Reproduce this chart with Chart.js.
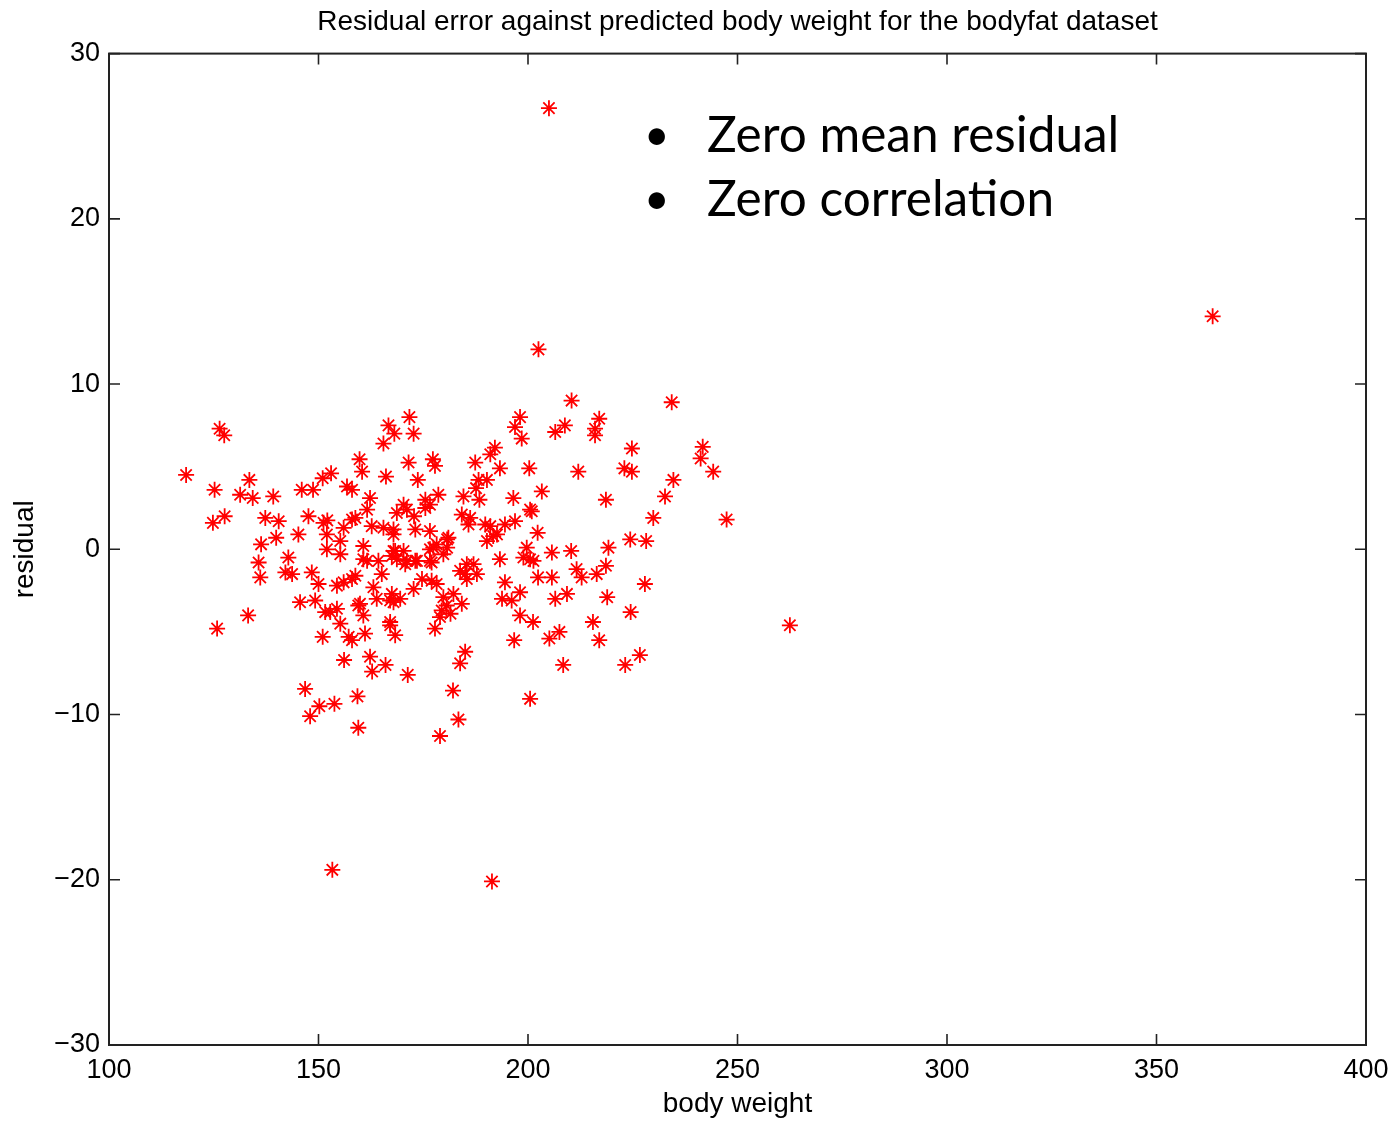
<!DOCTYPE html>
<html>
<head>
<meta charset="utf-8">
<script src="https://cdn.jsdelivr.net/npm/chart.js@4/dist/chart.umd.min.js"></script>
<style>
  html, body { margin: 0; padding: 0; background: #fff; }
  #wrap { position: relative; width: 1395px; height: 1123px; }
  #notes { position: absolute; left: 640px; top: 101px; font-family: Lato, "Open Sans", sans-serif; font-size: 49.5px; color: #000; line-height: 64px; }
  #notes .row { white-space: nowrap; }
  #notes .b { display: inline-block; width: 67px; text-align: left; padding-left: 4px; box-sizing: border-box; font-size: 44px; vertical-align: top; }
</style>
</head>
<body>
<div id="wrap">
  <canvas id="c" width="1395" height="1123"></canvas>
  <div id="notes">
    <div class="row"><span class="b">•</span>Zero mean residual</div>
    <div class="row"><span class="b">•</span>Zero correlation</div>
  </div>
</div>
<script>
const chartTitle = 'Residual error against predicted body weight for the bodyfat dataset';
const xLabel = 'body weight';
const yLabel = 'residual';
const xTicks = [100, 150, 200, 250, 300, 350, 400];
const yTicks = [-30, -20, -10, 0, 10, 20, 30];

const weights = [
  205.0, 363.4, 202.5, 262.5, 153.3, 191.4, 118.4, 247.4, 244.2, 241.7,
  241.2, 234.7, 234.3, 232.7, 229.9, 228.2, 227.9, 226.7, 224.8, 224.8,
  223.0, 224.4, 224.5, 223.2, 217.0, 216.0, 216.0, 218.6, 219.2, 218.9,
  216.4, 218.6, 215.5, 217.0, 212.0, 210.4, 210.3, 211.6, 212.8, 209.3,
  208.4, 208.8, 206.5, 205.7, 205.7, 206.5, 207.5, 205.1, 203.3, 202.4,
  201.3, 202.3, 200.3, 200.9, 199.7, 200.5, 200.5, 201.2, 198.1, 196.9,
  198.5, 196.5, 200.5, 196.9, 194.5, 191.0, 198.1, 196.1, 193.8, 194.5,
  193.3, 198.9, 198.1, 196.7, 187.4, 191.0, 192.1, 193.3, 188.2, 190.2,
  187.6, 184.6, 188.4, 184.2, 186.2, 185.8, 189.8, 191.7, 190.2, 192.6,
  185.0, 183.8, 185.4, 187.0, 187.8, 185.4, 184.2, 182.2, 180.6, 179.4,
  181.5, 179.0, 177.8, 179.8, 185.0, 183.8, 182.1, 183.4, 179.0, 177.0,
  178.2, 174.7, 172.7, 177.0, 179.8, 176.6, 173.5, 173.1, 171.1, 170.7,
  168.7, 167.5, 167.9, 168.3, 170.3, 176.6, 177.4, 178.2, 180.7, 180.7,
  181.0, 176.6, 173.1, 167.9, 167.9, 165.5, 162.7, 160.7, 161.6, 164.3,
  160.7, 165.1, 158.8, 163.1, 167.5, 167.1, 169.5, 167.9, 163.9, 159.9,
  160.7, 167.1, 167.1, 168.3, 161.1, 162.3, 166.0, 162.8, 171.3, 159.3,
  159.5, 171.7, 166.7, 168.1, 172.7, 165.5, 159.8, 160.4, 171.5, 177.3,
  177.8, 166.1, 173.7, 162.3, 161.6, 158.8, 170.3, 171.1, 168.7, 175.5,
  176.6, 178.6, 175.5, 172.8, 126.4, 127.5, 133.5, 125.2, 131.3, 134.3,
  139.2, 146.0, 148.7, 151.0, 153.0, 156.8, 158.0, 127.6, 124.8, 137.3,
  140.5, 147.6, 151.2, 152.1, 156.0, 158.0, 145.2, 139.9, 136.3, 152.0,
  155.2, 152.0, 142.8, 135.7, 136.1, 142.1, 143.7, 148.4, 150.0, 154.4,
  156.0, 158.0, 155.2, 145.6, 149.2, 151.6, 152.8, 154.4, 155.2, 157.2,
  158.0, 159.5, 151.0, 133.2, 125.8, 156.1, 146.8, 150.2, 153.8, 148.0
];
const residuals = [
  26.7, 14.1, 12.1, -4.6, -19.4, -20.1, 4.5, 1.8, 4.7, 6.2,
  5.5, 4.2, 8.9, 3.2, 1.9, 0.5, -2.1, -6.4, 6.1, 4.7,
  4.9, 0.6, -3.8, -7.0, 7.9, 7.3, 6.9, 3.0, 0.1, -2.9,
  -1.5, -1.0, -4.4, -5.5, 4.7, 9.0, -0.1, -1.2, -1.7, -2.7,
  -7.0, 7.5, 7.1, -0.2, -1.7, -3.0, -5.0, -5.4, 3.5, -1.7,
  -0.7, 1.0, 4.9, 2.3, 0.1, -0.6, -9.05, -4.4, 8.0, 7.4,
  6.7, 3.1, 2.4, 1.7, 1.5, 1.4, -2.6, -3.1, -3.0, -2.0,
  -0.6, -0.5, -4.0, -5.5, 5.25, 5.75, 6.15, 4.9, 4.2, 4.2,
  3.7, 3.2, 3.0, 2.1, 1.9, 1.5, 1.5, 0.8, 0.5, 0.9,
  -1.5, -1.3, -1.8, -0.9, -1.5, -0.9, -3.3, -2.7, -3.4, -3.7,
  -3.9, -4.1, -4.8, -2.9, -6.2, -6.9, -8.55, -10.3, -11.3, -1.9,
  -2.1, -1.8, -2.4, -0.8, -0.3, -0.7, -0.7, -0.7, -0.7, -0.9,
  -0.6, -0.4, -0.1, -0.1, -0.1, 0.0, 0.1, 0.3, 0.1, 0.6,
  0.7, 1.1, 1.2, 1.2, 0.9, 1.3, 1.4, 0.2, -0.7, -0.7,
  -0.6, -1.5, -1.6, -2.3, -2.7, -3.1, -3.0, -3.2, -3.0, -3.3,
  -4.0, -4.4, -4.6, -5.2, -5.1, -6.5, -7.0, -7.4, -7.6, -8.9,
  -10.8, 8.0, 7.5, 7.0, 7.0, 6.4, 5.45, 4.7, 5.25, 5.45,
  5.05, 4.4, 4.2, 3.1, 2.4, 1.9, 2.7, 2.4, 2.2, 3.0,
  2.7, 3.3, 2.5, 2.0, 7.3, 6.9, 4.2, 3.6, 3.3, 3.1,
  3.2, 3.6, 3.6, 4.3, 4.6, 3.8, 3.6, 2.0, 1.6, 1.9,
  1.7, 2.0, 1.6, 1.75, 1.3, 1.8, 0.9, 0.7, 0.3, 0.9,
  0.5, 0.0, -0.5, -0.8, -1.7, -1.4, -1.5, -1.4, -2.1, -2.2,
  -2.0, -1.8, -0.3, -3.2, -3.1, -3.8, -3.8, -3.6, -4.5, -5.3,
  -5.5, -3.4, -5.3, -4.0, -4.8, -6.7, -8.45, -9.5, -9.35, -10.1
];

const points = weights.map((w, i) => ({ x: w, y: residuals[i] }));
const FONT = 'Liberation Sans, Arial, Helvetica, sans-serif';
const minusFmt = v => (v < 0 ? '\u2212' + Math.abs(v) : String(v));

const boxAndTicks = {
  id: 'boxAndTicks',
  afterDraw(chart) {
    const { ctx, chartArea: a, scales: { x, y } } = chart;
    const len = 11;
    ctx.save();
    ctx.strokeStyle = '#222';
    ctx.lineWidth = 1.6;
    ctx.beginPath();
    x.ticks.forEach(t => {
      const px = x.getPixelForValue(t.value);
      ctx.moveTo(px, a.bottom); ctx.lineTo(px, a.bottom - len);
      ctx.moveTo(px, a.top); ctx.lineTo(px, a.top + len);
    });
    y.ticks.forEach(t => {
      const py = y.getPixelForValue(t.value);
      ctx.moveTo(a.left, py); ctx.lineTo(a.left + len, py);
      ctx.moveTo(a.right, py); ctx.lineTo(a.right - len, py);
    });
    ctx.stroke();
    ctx.lineWidth = 2;
    ctx.strokeRect(a.left, a.top, a.right - a.left, a.bottom - a.top);
    ctx.restore();
  }
};

new Chart(document.getElementById('c'), {
  type: 'scatter',
  data: {
    datasets: [{
      data: points,
      pointStyle: 'star',
      pointRadius: 8,
      pointHoverRadius: 8,
      borderWidth: 1.8,
      borderColor: '#ff0000',
      backgroundColor: '#ff0000'
    }]
  },
  options: {
    responsive: false,
    animation: false,
    events: [],
    layout: { padding: { left: 0, right: 29, top: 0, bottom: 0 } },
    plugins: {
      legend: { display: false },
      tooltip: { enabled: false },
      title: {
        display: true,
        fullSize: false,
        text: chartTitle,
        color: '#000',
        font: { family: FONT, size: 28, weight: 'normal', lineHeight: 1.2 },
        padding: { top: 5, bottom: 15 }
      }
    },
    scales: {
      x: {
        type: 'linear',
        position: 'bottom',
        min: 100, max: 400,
        afterBuildTicks: s => { s.ticks = xTicks.map(v => ({ value: v })); },
        afterFit: s => { s.height = 78; s.paddingLeft = 0; s.paddingRight = 0; },
        grid: { display: false, drawTicks: false },
        border: { display: false },
        ticks: { padding: 9, color: '#000', font: { family: FONT, size: 27 }, callback: v => minusFmt(v), maxRotation: 0 },
        title: { display: true, text: xLabel, color: '#000', font: { family: FONT, size: 28, lineHeight: 1.2 }, padding: { top: 0, bottom: 2 } }
      },
      y: {
        type: 'linear',
        min: -30, max: 30,
        afterBuildTicks: s => { s.ticks = yTicks.map(v => ({ value: v })); },
        afterFit: s => { s.width = 109; },
        grid: { display: false, drawTicks: false },
        border: { display: false },
        ticks: { padding: 9, color: '#000', font: { family: FONT, size: 27 }, callback: v => minusFmt(v) },
        title: { display: true, text: yLabel, color: '#000', font: { family: FONT, size: 28, lineHeight: 1.2 }, padding: { top: 8, bottom: 0 } }
      }
    }
  },
  plugins: [boxAndTicks]
});
</script>
</body>
</html>
